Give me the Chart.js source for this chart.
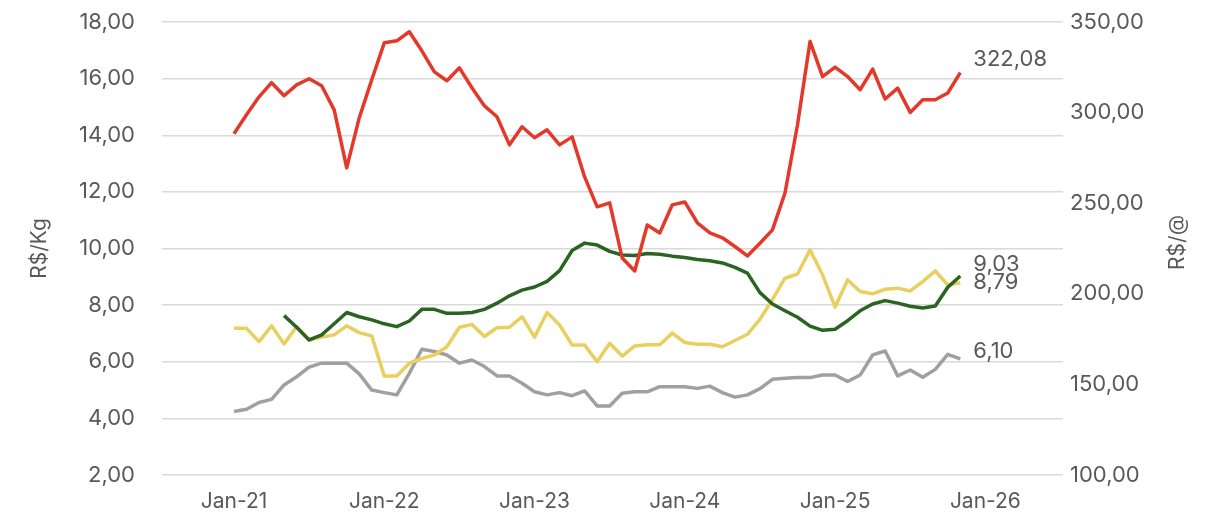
<!DOCTYPE html>
<html>
<head>
<meta charset="utf-8">
<script src="https://cdn.jsdelivr.net/npm/chart.js@4.4.1/dist/chart.umd.min.js"></script>
<style>
  html, body { margin: 0; padding: 0; background: #fff; }
</style>
</head>
<body>
<canvas id="chart" width="1220" height="513"></canvas>
<script>
// months Jan-21 .. Nov-25 (index 0..58)
const months = [
  'Jan-21','Feb-21','Mar-21','Apr-21','May-21','Jun-21','Jul-21','Aug-21','Sep-21','Oct-21','Nov-21','Dec-21',
  'Jan-22','Feb-22','Mar-22','Apr-22','May-22','Jun-22','Jul-22','Aug-22','Sep-22','Oct-22','Nov-22','Dec-22',
  'Jan-23','Feb-23','Mar-23','Apr-23','May-23','Jun-23','Jul-23','Aug-23','Sep-23','Oct-23','Nov-23','Dec-23',
  'Jan-24','Feb-24','Mar-24','Apr-24','May-24','Jun-24','Jul-24','Aug-24','Sep-24','Oct-24','Nov-24','Dec-24',
  'Jan-25','Feb-25','Mar-25','Apr-25','May-25','Jun-25','Jul-25','Aug-25','Sep-25','Oct-25','Nov-25'
];

// R$/@ (right axis)
const redSeries = [
  288.3, 298.8, 308.7, 316.5, 309.3, 315.3, 318.7, 314.8, 301.5, 269.5,
  297.1, 318.1, 338.5, 339.6, 344.6, 334.1, 322.5, 317.6, 324.7, 313.7,
  303.7, 297.7, 282.2, 292.2, 286.1, 290.5, 282.2, 286.6, 264.5, 248.0,
  250.2, 219.8, 212.6, 238.0, 233.6, 249.1, 250.7, 239.2, 233.6, 230.9,
  226.1, 220.9, 227.9, 235.3, 255.6, 293.3, 339.3, 319.9, 325.1, 319.9,
  312.6, 324.0, 307.5, 313.5, 300.1, 307.1, 307.1, 310.8, 322.08
];

// R$/Kg (left axis)
const greenSeries = [
  null, null, null, null, 7.63, 7.22, 6.77, 6.95, 7.34, 7.74,
  7.59, 7.48, 7.34, 7.24, 7.44, 7.85, 7.85, 7.71, 7.71, 7.74,
  7.85, 8.07, 8.33, 8.53, 8.64, 8.84, 9.22, 9.93, 10.19, 10.12,
  9.90, 9.77, 9.75, 9.82, 9.80, 9.73, 9.68, 9.61, 9.57, 9.49,
  9.33, 9.13, 8.44, 8.04, 7.80, 7.57, 7.26, 7.11, 7.15, 7.45,
  7.80, 8.04, 8.16, 8.07, 7.96, 7.90, 7.97, 8.63, 9.03
];

const yellowSeries = [
  7.18, 7.18, 6.71, 7.27, 6.63, 7.24, 6.77, 6.87, 6.95, 7.27,
  7.03, 6.91, 5.50, 5.50, 5.95, 6.12, 6.24, 6.53, 7.22, 7.32,
  6.89, 7.20, 7.22, 7.59, 6.87, 7.74, 7.30, 6.59, 6.59, 6.00,
  6.65, 6.20, 6.56, 6.60, 6.60, 7.01, 6.68, 6.62, 6.62, 6.53,
  6.75, 6.97, 7.50, 8.20, 8.95, 9.10, 9.95, 9.07, 7.93, 8.89,
  8.48, 8.40, 8.56, 8.60, 8.50, 8.83, 9.21, 8.71, 8.79
];

const graySeries = [
  4.24, 4.32, 4.56, 4.67, 5.18, 5.47, 5.81, 5.95, 5.95, 5.95,
  5.57, 5.00, 4.91, 4.83, 5.59, 6.44, 6.36, 6.24, 5.95, 6.06,
  5.83, 5.50, 5.50, 5.24, 4.94, 4.83, 4.91, 4.80, 4.97, 4.44,
  4.44, 4.89, 4.94, 4.94, 5.12, 5.12, 5.12, 5.06, 5.14, 4.91,
  4.75, 4.83, 5.05, 5.38, 5.42, 5.44, 5.44, 5.53, 5.53, 5.30,
  5.53, 6.24, 6.38, 5.50, 5.71, 5.45, 5.73, 6.26, 6.10
];

const xTickMonths = [0, 12, 24, 36, 48, 60];
const xTickLabels = ['Jan-21', 'Jan-22', 'Jan-23', 'Jan-24', 'Jan-25', 'Jan-26'];

const TEXT = '#595959';
const FONT = 'Inter, "Noto Sans", sans-serif';

const fmt = v => Number(v).toFixed(2).replace('.', ',');
const toPoints = arr => arr.map((v, i) => ({ x: i, y: v }));

function line(data, color, axis, labelDy) {
  return {
    data: toPoints(data),
    borderColor: color,
    borderWidth: 3.5,
    pointRadius: 0,
    tension: 0,
    borderJoinStyle: 'round',
    yAxisID: axis,
    spanGaps: false,
    endLabelDy: labelDy
  };
}

// vertical axes: no extra top/bottom room for the tick labels
const fitY = width => s => {
  s.width = width;
  s.paddingTop = 0;
  s.paddingBottom = 0;
};

const endLabels = {
  id: 'endLabels',
  afterDatasetsDraw(chart) {
    const ctx = chart.ctx;
    ctx.save();
    ctx.font = '22px ' + FONT;
    ctx.fillStyle = TEXT;
    ctx.textAlign = 'left';
    ctx.textBaseline = 'middle';
    chart.data.datasets.forEach((ds, di) => {
      const meta = chart.getDatasetMeta(di);
      const last = meta.data[meta.data.length - 1];
      const val = ds.data[ds.data.length - 1].y;
      ctx.fillText(fmt(val), last.x + 13, last.y + ds.endLabelDy);
    });
    // right axis title, rotated like the left one
    const area = chart.chartArea;
    ctx.translate(area.right + 115, (area.top + area.bottom) / 2 - 6);
    ctx.rotate(-Math.PI / 2);
    ctx.textAlign = 'center';
    ctx.font = '21px ' + FONT;
    ctx.fillText('R$/@', 0, 0);
    ctx.restore();
  }
};

new Chart(document.getElementById('chart'), {
  type: 'line',
  data: {
    datasets: [
      line(redSeries, '#E4392A', 'y1', -13),
      line(greenSeries, '#2B6322', 'y', -12),
      line(yellowSeries, '#E8CF5E', 'y', 0),
      line(graySeries, '#A0A0A0', 'y', -8)
    ]
  },
  options: {
    responsive: false,
    animation: false,
    layout: { padding: { top: 22, left: 0, right: 0, bottom: 0 } },
    plugins: {
      legend: { display: false },
      tooltip: { enabled: false }
    },
    scales: {
      x: {
        type: 'linear',
        min: -5.75,
        max: 66.2,
        afterBuildTicks: s => { s.ticks = xTickMonths.map(v => ({ value: v })); },
        afterFit: s => { s.height = 38; },
        ticks: {
          autoSkip: false,
          maxRotation: 0,
          padding: 6,
          color: TEXT,
          font: { family: FONT, size: 21 },
          callback: (v, i) => xTickLabels[i]
        },
        grid: { display: false },
        border: { display: false }
      },
      y: {
        position: 'left',
        min: 2,
        max: 18,
        afterFit: fitY(162),
        ticks: {
          stepSize: 2,
          padding: 27,
          color: TEXT,
          font: { family: FONT, size: 22 },
          callback: v => fmt(v)
        },
        grid: { color: '#D9D9D9', lineWidth: 1.5, drawTicks: false },
        border: { display: false },
        title: {
          display: true,
          text: 'R$/Kg',
          color: TEXT,
          font: { family: FONT, size: 21 },
          padding: { top: 27 }
        }
      },
      y1: {
        position: 'right',
        min: 100,
        max: 350,
        afterFit: fitY(157),
        ticks: {
          stepSize: 50,
          padding: 7,
          color: TEXT,
          font: { family: FONT, size: 22 },
          callback: v => fmt(v)
        },
        grid: { display: false, drawTicks: false },
        border: { display: false }
      }
    }
  },
  plugins: [endLabels]
});
</script>
</body>
</html>
